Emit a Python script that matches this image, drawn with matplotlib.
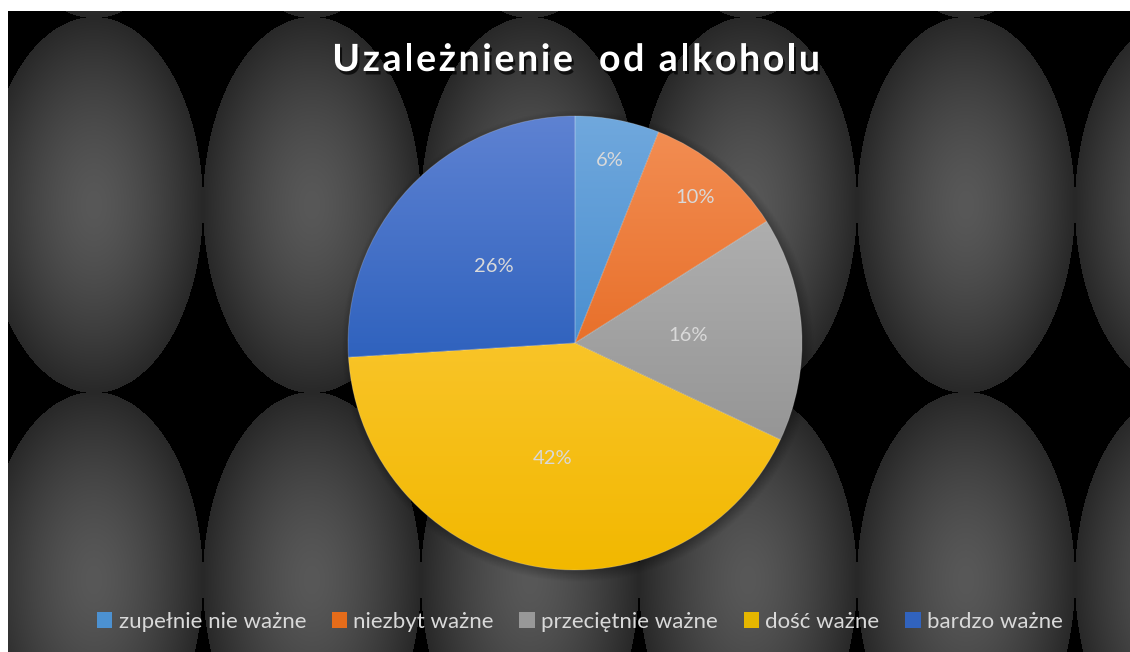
import numpy as np
import matplotlib
matplotlib.use('Agg')
import matplotlib.pyplot as plt
from matplotlib import patheffects as pe
from matplotlib.patches import Patch
from matplotlib.colors import to_rgb
from matplotlib.font_manager import FontProperties
from matplotlib.textpath import TextPath

# dane wykresu
title = 'Uzależnienie  od alkoholu'
categories = ['zupełnie nie ważne', 'niezbyt ważne', 'przeciętnie ważne', 'dość ważne', 'bardzo ważne']
shares = [6, 10, 16, 42, 26]
base_colors = ['#5B9BD5', '#ED7D31', '#A5A5A5', '#FFC000', '#4472C4']
# gradient: kolor na górze i na dole koła
top_colors = ['#70A8DD', '#F38F55', '#BABABA', '#FFD050', '#5E82D2']
bottom_colors = ['#2476C3', '#DD5100', '#878787', '#F2B800', '#0646AC']
legend_colors = ['#4C91D1', '#E56C1A', '#989898', '#E5B600', '#3163BE']
label_radius = [0.82, 0.83, 0.50, 0.52, 0.49]

W, H = 1130, 652
FONT = ['Lato', 'DejaVu Sans']
plt.rcParams['font.family'] = FONT

fig = plt.figure(figsize=(W / 100, H / 100), dpi=100)
fig.patch.set_facecolor('white')


# tło: szare elipsy z gradientem na czarnym
def make_background():
    x0, y0 = 8, 11
    yy, xx = np.mgrid[y0:H, x0:W] + 0.5
    a, b = 109.0, 188.0
    d = np.full(xx.shape, 9.0)
    for cy in [-170, 205, 580]:
        for cx in np.arange(94 - 218, W + 218, 218):
            dd = np.sqrt(((xx - cx) / a) ** 2 + ((yy - cy) / b) ** 2)
            d = np.minimum(d, dd)
    v = np.where(d <= 1, 40 + 48 * (1 - np.clip(d, 0, 1) ** 1.5), 0) / 255.0
    return np.dstack([v, v, v])


bg_ax = fig.add_axes([8 / W, 0, (W - 8) / W, (H - 11) / H])
bg_ax.imshow(make_background(), aspect='auto', interpolation='bilinear')
bg_ax.set_axis_off()

# koło
cx, cy, R = 575, 343, 227
pad = 1.15
side = 2 * R * pad
ax = fig.add_axes([(cx - side / 2) / W, (H - cy - side / 2) / H, side / W, side / H])

wedges, _ = ax.pie(shares, colors=base_colors, startangle=90, counterclock=False, radius=1,
                   wedgeprops=dict(edgecolor=(1, 1, 1, 0.2), linewidth=0.7))
ax.set_axis_off()

# delikatny cień pod kołem
n = 400
g = np.linspace(-pad, pad, n)
gx, gy = np.meshgrid(g, g[::-1])
r = np.sqrt((gx - 0.01) ** 2 + (gy + 0.015) ** 2)
alpha = np.clip((1.04 - r) / 0.06, 0, 1) * 0.35
shadow = np.zeros((n, n, 4))
shadow[..., 3] = alpha
ax.imshow(shadow, extent=(-pad, pad, -pad, pad), zorder=1)

for w, ct, cb in zip(wedges, top_colors, bottom_colors):
    t = np.linspace(0, 1, 256)[:, None]
    grad = (1 - t) * np.array(to_rgb(ct)) + t * np.array(to_rgb(cb))
    im = ax.imshow(grad[:, None, :], extent=(-1, 1, -1, 1), aspect='auto', zorder=2)
    im.set_clip_path(w)
    w.set_facecolor('none')
    w.set_zorder(3)
ax.set_xlim(-pad, pad)
ax.set_ylim(-pad, pad)

total = sum(shares)
for w, val, rr in zip(wedges, shares, label_radius):
    ang = np.deg2rad((w.theta1 + w.theta2) / 2)
    ax.text(rr * np.cos(ang), rr * np.sin(ang), f'{round(100 * val / total)}%',
            ha='center', va='center', fontsize=14.5, color='#D9D9D9', zorder=4)

# tytuł z rozstrzeleniem liter
fp = FontProperties(family=FONT, weight='bold', size=27)
track = 2.6  # px na literę


def ink_w(s):
    if not s.strip():
        return 0.0
    ext = TextPath((0, 0), s, prop=fp).get_extents()
    return ext.x1 * 100 / 72


widths = [ink_w(title[:i + 1]) - ink_w(title[i]) if title[i] != ' ' else 0 for i in range(len(title))]
total_w = ink_w(title) + track * (len(title) - 1)
left = cx - total_w / 2
shadow_fx = [pe.withSimplePatchShadow(offset=(1.5, -2.5), shadow_rgbFace='black', alpha=0.7)]
for i, ch in enumerate(title):
    if ch == ' ':
        continue
    fig.text((left + widths[i] + track * i) / W, 1 - 57 / H, ch, ha='left', va='center_baseline',
             fontproperties=fp, color='white', path_effects=shadow_fx)

handles = [Patch(facecolor=c, edgecolor='none') for c in legend_colors]
fig.legend(handles, categories, loc='center', bbox_to_anchor=(0.513, 1 - 622 / H), ncol=5,
           frameon=False, fontsize=16, labelcolor='#D9D9D9', handlelength=0.7,
           handleheight=0.7, handletextpad=0.28, columnspacing=1.15)

fig.savefig('out.png', dpi=100, facecolor=fig.get_facecolor())
